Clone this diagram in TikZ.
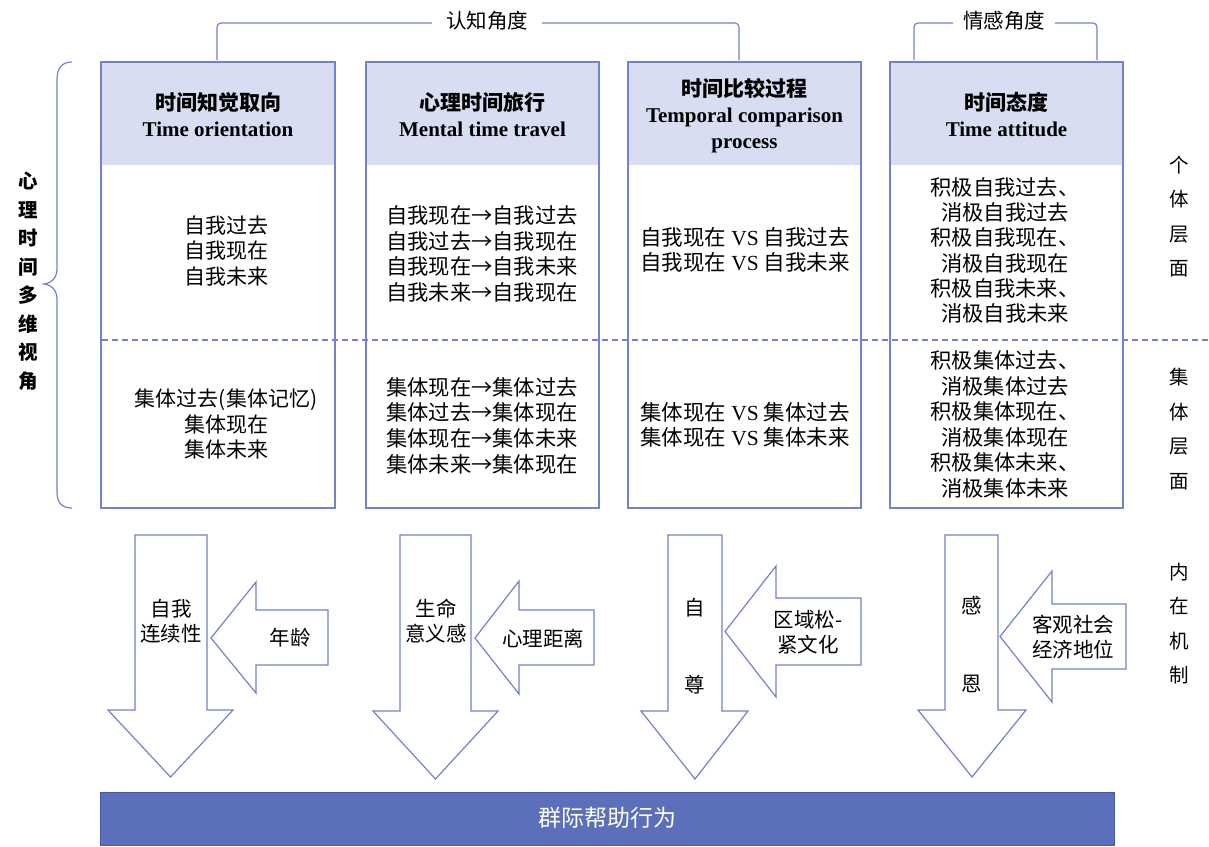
\documentclass[tikz,border=0pt]{standalone}
\usepackage{fontspec}
\setmainfont{Liberation Serif}
\newfontfamily\cjk{Noto Sans CJK SC}
\definecolor{lineblue}{HTML}{7282CC}
\definecolor{headfill}{HTML}{D9DDF1}
\definecolor{barfill}{HTML}{5B6FBA}
\definecolor{barline}{HTML}{4659A8}
\tikzset{
  body/.style={font=\cjk\fontsize{21}{25.5}\selectfont, align=center, inner sep=0pt},
  headtxt/.style={font=\fontsize{21}{26}\selectfont\bfseries, align=center, inner sep=0pt},
  vlab/.style={font=\cjk\fontsize{19.5}{34.5}\selectfont, align=center, inner sep=0pt},
  boxline/.style={draw=lineblue, line width=1.2pt},
  arrowshape/.style={draw=lineblue, fill=white, line width=1.2pt, line join=miter},
  arrtxt/.style={font=\cjk\fontsize{20.5}{25}\selectfont, align=center, inner sep=0pt},
}
\newcommand{\hz}[1]{{\cjk\fontsize{21}{26}\selectfont\bfseries #1}}
\begin{document}
\begin{tikzpicture}[x=1pt,y=-1pt]
\useasboundingbox[fill=white] (0,0) rectangle (1209,846);

% columns
\foreach \l/\r in {101/335, 366/599, 628/861, 890/1123}{
  \fill[headfill] (\l,62) rectangle (\r,165);
  \draw[boxline] (\l,62) rectangle (\r,508);
}
% dashed separator
\draw[lineblue, line width=1.2pt, dash pattern=on 6pt off 4pt] (102,340) -- (1209,340);

% top brackets
\draw[lineblue, line width=1.2pt, rounded corners=4pt] (217,60) -- (217,23) -- (739,23) -- (739,60);
\node[fill=white, inner xsep=14pt, inner ysep=2pt, font=\cjk\fontsize{20.5}{24}\selectfont] (cog) at (487,21) {认知角度};
\draw[lineblue, line width=1.2pt, rounded corners=4pt] (914,60) -- (914,23) -- (1097,23) -- (1097,60);
\node[fill=white, inner xsep=10pt, inner ysep=2pt, font=\cjk\fontsize{20.5}{24}\selectfont] (emo) at (1004,21) {情感角度};

% left brace
\draw[lineblue, line width=1.2pt] (72,62) .. controls (62,62) and (57,68) .. (57,80) -- (57,268)
  .. controls (57,278) and (52,283) .. (44,284) .. controls (52,285) and (57,290) .. (57,300)
  -- (57,492) .. controls (57,503) and (62,508) .. (72,508);
\node[font=\cjk\fontsize{19.5}{28.5}\selectfont\bfseries, align=center, inner sep=0pt] (leftlab) at (28,281) {心\\理\\时\\间\\多\\维\\视\\角};

% headers
\node[headtxt] (h1) at (218,115) {\hz{时间知觉取向}\\Time orientation};
\node[headtxt] (h2) at (482.5,115) {\hz{心理时间旅行}\\Mental time travel};
\node[headtxt] (h3) at (744.5,115.5) {\hz{时间比较过程}\\Temporal comparison\\process};
\node[headtxt] (h4) at (1006.5,115) {\hz{时间态度}\\Time attitude};

% body texts
\node[body] (c1a) at (226,251) {自我过去\\自我现在\\自我未来};
\node[body] (c1b) at (226,424) {集体过去(集体记忆)\\集体现在\\集体未来};
\node[body, font=\cjk\fontsize{21.3}{25.7}\selectfont] (c2a) at (482,254) {自我现在→自我过去\\自我过去→自我现在\\自我现在→自我未来\\自我未来→自我现在};
\node[body, font=\cjk\fontsize{21.3}{25.7}\selectfont] (c2b) at (482,425.5) {集体现在→集体过去\\集体过去→集体现在\\集体现在→集体未来\\集体未来→集体现在};
\node[body, font=\cjk\fontsize{21.5}{25.5}\selectfont] (c3a) at (745,250) {自我现在 {\rmfamily VS} 自我过去\\自我现在 {\rmfamily VS} 自我未来};
\node[body, font=\cjk\fontsize{21.5}{25.5}\selectfont] (c3b) at (745,425) {集体现在 {\rmfamily VS} 集体过去\\集体现在 {\rmfamily VS} 集体未来};
\node[body, font=\cjk\fontsize{21.3}{25.3}\selectfont] (c4a) at (1005,250.5) {积极自我过去、\\消极自我过去\\积极自我现在、\\消极自我现在\\积极自我未来、\\消极自我未来};
\node[body, font=\cjk\fontsize{21.3}{25.5}\selectfont] (c4b) at (1005,424.5) {积极集体过去、\\消极集体过去\\积极集体现在、\\消极集体现在\\积极集体未来、\\消极集体未来};

% right labels
\node[vlab] (r1) at (1179,216.5) {个\\体\\层\\面};
\node[vlab] (r2) at (1179,429) {集\\体\\层\\面};
\node[vlab] (r3) at (1179,623.5) {内\\在\\机\\制};

% down arrows
\draw[arrowshape] (135,535) -- (207,535) -- (207,710) -- (233,710) -- (170.5,777) -- (108,710) -- (135,710) -- cycle;
\draw[arrowshape] (400,535) -- (471,535) -- (471,711) -- (498,711) -- (435.5,779) -- (373,711) -- (400,711) -- cycle;
\draw[arrowshape] (668,535) -- (722,535) -- (722,711) -- (748,711) -- (695,779) -- (641,711) -- (668,711) -- cycle;
\draw[arrowshape] (945,535) -- (998,535) -- (998,710) -- (1026,710) -- (972,777) -- (918,710) -- (945,710) -- cycle;
% left arrows
\draw[arrowshape] (211,638) -- (256,582) -- (256,610) -- (328,610) -- (328,665) -- (256,665) -- (256,693) -- cycle;
\draw[arrowshape] (475,638) -- (519,581) -- (519,610) -- (594,610) -- (594,665) -- (519,665) -- (519,694) -- cycle;
\draw[arrowshape] (725,631.5) -- (776,566) -- (776,598) -- (861,598) -- (861,665) -- (776,665) -- (776,697) -- cycle;
\draw[arrowshape] (1000,636.5) -- (1052,571) -- (1052,604) -- (1126,604) -- (1126,669) -- (1052,669) -- (1052,702) -- cycle;

% arrow texts
\node[arrtxt] (m1) at (171,621) {自我\\连续性};
\node[arrtxt] (f1) at (290,638) {年龄};
\node[arrtxt] (m2) at (436,621) {生命\\意义感};
\node[arrtxt] (f2) at (543,639) {心理距离};
\node[arrtxt] (m3a) at (695,608) {自};
\node[arrtxt] (m3b) at (695,685) {尊};
\node[arrtxt] (f3) at (808,632.5) {区域松-\\紧文化};
\node[arrtxt] (m4a) at (972,606) {感};
\node[arrtxt] (m4b) at (972,684) {恩};
\node[arrtxt] (f4) at (1073,637.5) {客观社会\\经济地位};

% bottom bar
\draw[fill=barfill, draw=barline, line width=1pt] (100,792) rectangle (1114,845);
\node[font=\cjk\fontsize{23}{26}\selectfont, text=white, inner sep=0pt] (bar) at (607,818) {群际帮助行为};
\end{tikzpicture}
\end{document}
